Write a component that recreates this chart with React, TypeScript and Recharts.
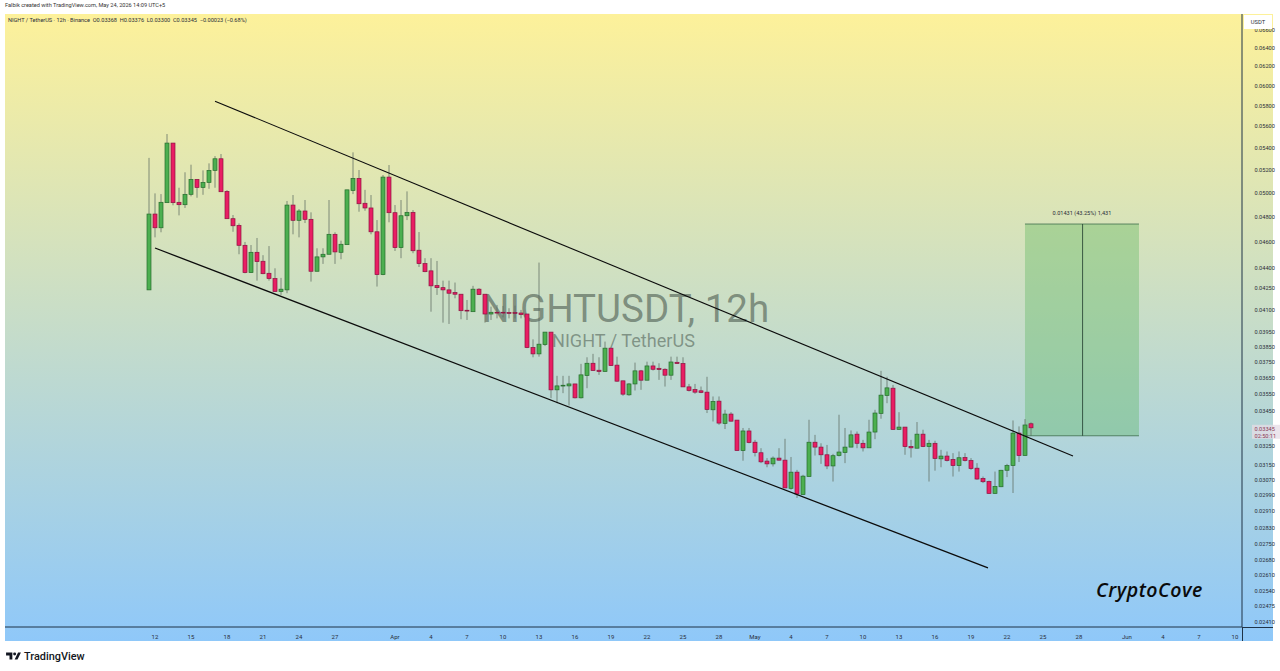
import { Bar, ComposedChart, ReferenceArea, ReferenceLine, XAxis, YAxis } from 'recharts';

const FONT = 'Roboto, "Liberation Sans", sans-serif';

// 12h candles, first one is Mar 11 12:00
const opens = [
  0.04229, 0.04811, 0.047, 0.04905, 0.05428, 0.04908, 0.04888, 0.04975, 0.05103, 0.05034,
  0.05077, 0.05182, 0.05285, 0.05, 0.04773, 0.04719, 0.04562, 0.04355, 0.04508, 0.0444,
  0.0435, 0.04311, 0.04217, 0.04229, 0.04885, 0.0476, 0.04836, 0.04768, 0.04365, 0.04473,
  0.04493, 0.04648, 0.04508, 0.04567, 0.05008, 0.05112, 0.049, 0.04861, 0.04668, 0.0434,
  0.05123, 0.04822, 0.04544, 0.04797, 0.04825, 0.04524, 0.04422, 0.04368, 0.0426, 0.04245,
  0.04229, 0.0421, 0.04198, 0.04085, 0.04075, 0.04234, 0.04198, 0.04059, 0.04071, 0.04071,
  0.04069, 0.04069, 0.04066, 0.04059, 0.03834, 0.03793, 0.03853, 0.03936, 0.03568, 0.03592,
  0.03592, 0.03604, 0.0352, 0.03656, 0.03733, 0.03689, 0.03681, 0.0383, 0.03721, 0.03623,
  0.03538, 0.03604, 0.03685, 0.03627, 0.03716, 0.03701, 0.03695, 0.03658, 0.03739, 0.03731,
  0.03586, 0.0357, 0.03562, 0.03554, 0.03449, 0.035, 0.0337, 0.03424, 0.03389, 0.03218,
  0.03327, 0.03264, 0.03206, 0.03161, 0.03146, 0.03177, 0.03166, 0.03018, 0.03102, 0.02986,
  0.03079, 0.03264, 0.03237, 0.03195, 0.03135, 0.03191, 0.03207, 0.03237, 0.03309, 0.03258,
  0.03233, 0.03321, 0.03428, 0.03534, 0.03578, 0.03336, 0.03349, 0.0324, 0.03231, 0.03309,
  0.0324, 0.03258, 0.03173, 0.03188, 0.0317, 0.03137, 0.0318, 0.03164, 0.03123, 0.03069,
  0.03053, 0.02992, 0.03026, 0.03112, 0.03137, 0.03315, 0.03191, 0.03368,
];
const highs = [
  0.05293, 0.04983, 0.04977, 0.05512, 0.05428, 0.05031, 0.05165, 0.05232, 0.05103, 0.05182,
  0.05244, 0.05309, 0.05328, 0.05011, 0.04803, 0.04735, 0.04588, 0.04564, 0.04619, 0.04486,
  0.04556, 0.04387, 0.04316, 0.04919, 0.04969, 0.04852, 0.04927, 0.04825, 0.04539, 0.04539,
  0.04927, 0.04664, 0.04598, 0.05013, 0.05343, 0.05185, 0.05013, 0.04969, 0.04762, 0.05141,
  0.05229, 0.04885, 0.04927, 0.05, 0.04844, 0.04666, 0.04463, 0.04463, 0.04442, 0.04296,
  0.04296, 0.04282, 0.04198, 0.04157, 0.04258, 0.04241, 0.04198, 0.0411, 0.04122, 0.04115,
  0.04099, 0.04117, 0.04087, 0.04059, 0.03888, 0.0443, 0.03936, 0.03936, 0.03654, 0.03654,
  0.03654, 0.03604, 0.03729, 0.03771, 0.03793, 0.03771, 0.03873, 0.0383, 0.03775, 0.03623,
  0.03609, 0.03737, 0.03691, 0.03743, 0.03743, 0.03733, 0.03701, 0.03775, 0.03775, 0.03771,
  0.03604, 0.03604, 0.03588, 0.03648, 0.03528, 0.03528, 0.03449, 0.03435, 0.03389, 0.03344,
  0.03344, 0.03277, 0.03231, 0.03177, 0.03186, 0.03231, 0.03283, 0.03183, 0.03114, 0.03088,
  0.03391, 0.03305, 0.03258, 0.03249, 0.032, 0.0342, 0.03344, 0.0333, 0.03324, 0.03277,
  0.03391, 0.03449, 0.03685, 0.03648, 0.03598, 0.03435, 0.03349, 0.03277, 0.03378, 0.03334,
  0.03277, 0.03272, 0.03222, 0.03213, 0.03204, 0.03213, 0.03204, 0.03177, 0.0315, 0.03079,
  0.03058, 0.03105, 0.03114, 0.03146, 0.03387, 0.03353, 0.03395, 0.03376,
];
const lows = [
  0.04229, 0.04624, 0.04664, 0.04905, 0.04883, 0.048, 0.04861, 0.04958, 0.04946, 0.04971,
  0.05022, 0.05031, 0.04997, 0.04773, 0.04668, 0.04493, 0.0435, 0.04355, 0.04296, 0.04343,
  0.04296, 0.04217, 0.04193, 0.04205, 0.04648, 0.04624, 0.04738, 0.04289, 0.04365, 0.0442,
  0.04493, 0.0442, 0.04455, 0.04567, 0.04977, 0.0483, 0.04838, 0.04648, 0.04253, 0.04336,
  0.04744, 0.04518, 0.04463, 0.04762, 0.04501, 0.04397, 0.04358, 0.04075, 0.04193, 0.04,
  0.03991, 0.04169, 0.04023, 0.04018, 0.04075, 0.04193, 0.04, 0.04018, 0.04029, 0.04036,
  0.04029, 0.04029, 0.04029, 0.0383, 0.03771, 0.03775, 0.03844, 0.03518, 0.03488, 0.03548,
  0.03474, 0.03516, 0.03516, 0.03578, 0.03687, 0.0366, 0.03681, 0.03716, 0.03617, 0.03532,
  0.03532, 0.03564, 0.03568, 0.03627, 0.03687, 0.03629, 0.03588, 0.03629, 0.03729, 0.03586,
  0.03558, 0.03544, 0.03548, 0.0343, 0.03381, 0.03362, 0.03338, 0.03381, 0.03218, 0.03163,
  0.03258, 0.03186, 0.0315, 0.03128, 0.03132, 0.03163, 0.0302, 0.03011, 0.02969, 0.02986,
  0.03079, 0.03191, 0.03146, 0.03118, 0.03053, 0.03186, 0.0315, 0.03237, 0.03231, 0.03213,
  0.03233, 0.03281, 0.03397, 0.03488, 0.03334, 0.03334, 0.03195, 0.0318, 0.03231, 0.03237,
  0.03053, 0.0311, 0.03128, 0.03159, 0.03079, 0.03105, 0.03159, 0.03114, 0.03062, 0.03045,
  0.0299, 0.0299, 0.03024, 0.03076, 0.02994, 0.03156, 0.03191, 0.033,
];
const closes = [
  0.04811, 0.047, 0.04908, 0.05428, 0.04905, 0.04888, 0.04975, 0.05103, 0.05034, 0.05077,
  0.05182, 0.05285, 0.04997, 0.04773, 0.04716, 0.04562, 0.04355, 0.04508, 0.04437, 0.04347,
  0.04311, 0.04217, 0.04234, 0.04885, 0.0476, 0.04836, 0.04768, 0.04365, 0.04473, 0.04493,
  0.04648, 0.04511, 0.0457, 0.05013, 0.05112, 0.04896, 0.04861, 0.04668, 0.0434, 0.05123,
  0.04822, 0.04544, 0.04797, 0.04825, 0.0452, 0.04422, 0.04362, 0.04258, 0.04245, 0.04229,
  0.04205, 0.04198, 0.04082, 0.04082, 0.04234, 0.04195, 0.04059, 0.04071, 0.04066, 0.04066,
  0.04064, 0.04064, 0.04055, 0.03834, 0.03793, 0.03856, 0.03936, 0.03568, 0.03592, 0.03596,
  0.03604, 0.0352, 0.0366, 0.03733, 0.03687, 0.03681, 0.0383, 0.03718, 0.03621, 0.03542,
  0.03604, 0.03685, 0.03627, 0.03716, 0.03695, 0.03693, 0.03658, 0.03741, 0.03731, 0.03586,
  0.03564, 0.03554, 0.03552, 0.03451, 0.03498, 0.03372, 0.03424, 0.03383, 0.03218, 0.03327,
  0.03262, 0.03207, 0.03157, 0.03146, 0.03177, 0.03166, 0.0302, 0.03102, 0.02989, 0.03081,
  0.03264, 0.03237, 0.03195, 0.03135, 0.0319, 0.0321, 0.03237, 0.03305, 0.03258, 0.03233,
  0.03321, 0.0343, 0.03536, 0.0358, 0.03336, 0.03349, 0.0324, 0.03233, 0.03309, 0.0324,
  0.03258, 0.03175, 0.03188, 0.03164, 0.03137, 0.03179, 0.03164, 0.03121, 0.03066, 0.03052,
  0.02992, 0.03028, 0.03112, 0.03137, 0.03315, 0.03191, 0.03361, 0.03345,
];

// x axis counts half days from Mar 12
const tickPositions = [0, 6, 12, 18, 24, 30, 40, 46, 52, 58, 64, 70, 76, 82, 88, 94, 100, 106, 112, 118, 124, 130, 136, 142, 148, 154, 162, 168, 174, 180];
const tickLabels = ['12', '15', '18', '21', '24', '27', 'Apr', '4', '7', '10', '13', '16', '19', '22', '25', '28', 'May', '4', '7', '10', '13', '16', '19', '22', '25', '28', 'Jun', '4', '7', '10'];
const priceTicks = [
  0.066, 0.064, 0.062, 0.06, 0.058, 0.056, 0.054, 0.052, 0.05, 0.048, 0.046, 0.044, 0.0425, 0.041, 0.0395, 0.0385,
  0.0375, 0.0365, 0.0355, 0.0345, 0.03345, 0.0325, 0.0315, 0.0307, 0.0299, 0.0291, 0.0283, 0.0275, 0.0268, 0.0261, 0.0254, 0.02475, 0.0241,
];

const upperChannel = [{ x: 10, y: 0.05829 }, { x: 153, y: 0.03189 }];
const lowerChannel = [{ x: 0, y: 0.04541 }, { x: 138.83, y: 0.02636 }];
const targetTimes = [145, 164];
const targetPrices = [0.033, 0.0473];
const targetCenter = 154.6;

const candles = opens.map((open, i) => ({
  t: i - 1,
  open,
  close: closes[i],
  high: highs[i],
  low: lows[i],
  range: [lows[i], highs[i]],
}));

function Candle(props: any) {
  const { x, y, width, height, payload } = props;
  const cx = Math.round(x + width / 2) + 1;
  const span = Math.log(payload.high / payload.low) || 1;
  const up = payload.close >= payload.open;
  const top = y + (height * Math.log(payload.high / Math.max(payload.open, payload.close))) / span;
  const bottom = y + (height * Math.log(payload.high / Math.min(payload.open, payload.close))) / span;
  return (
    <g>
      <line x1={cx} x2={cx} y1={y} y2={y + height} stroke="#5f6b60" strokeOpacity={0.75} />
      <rect
        x={cx - 2}
        y={top}
        width={4}
        height={Math.max(bottom - top, 0.8)}
        fill={up ? '#4caf50' : '#e91e63'}
        stroke={up ? '#256b2c' : '#8c1240'}
        strokeWidth={0.7}
      />
    </g>
  );
}

function PriceTick(props: any) {
  const { x, y, payload } = props;
  const isLast = payload.value === 0.03345;
  return (
    <g>
      {isLast && <rect x={x + 2} y={y - 3} width={28} height={14} fill="#e6dce6" fillOpacity={0.75} />}
      <text x={x + 4.5} y={y + 3.5} fontSize={5.6} fontFamily={FONT} fill={isLast ? '#8c3a55' : '#2a2e39'}>
        {payload.value.toFixed(5)}
      </text>
      {isLast && (
        <text x={x + 4.5} y={y + 10} fontSize={5.6} fontFamily={FONT} fill="#8c3a55">
          02:50:11
        </text>
      )}
    </g>
  );
}

export default function App() {
  return (
    <div style={{ position: 'absolute', left: 0, top: 0, width: 1280, height: 671, background: '#fff', overflow: 'hidden', fontFamily: FONT }}>
      <div style={{ position: 'absolute', left: 5, top: 14, width: 1268, height: 627, background: 'linear-gradient(180deg, #fdf19a 0%, #8fc8f9 100%)' }} />
      <div style={{ position: 'absolute', left: 5, top: 2, fontSize: 5.6, color: '#333' }}>Falbik created with TradingView.com, May 24, 2026 14:09 UTC+5</div>
      <div style={{ position: 'absolute', left: 8, top: 17, fontSize: 5.6, color: '#2a2e39', whiteSpace: 'pre' }}>
        NIGHT / TetherUS · 12h · Binance  O0.03368  H0.03376  L0.03300  C0.03345  −0.00023 (−0.68%)
      </div>
      <div style={{ position: 'absolute', left: 482, top: 284, fontSize: 38.5, lineHeight: '50px', color: 'rgba(60,75,65,0.55)', whiteSpace: 'pre' }}>NIGHTUSDT, 12h</div>
      <div style={{ position: 'absolute', left: 552, top: 329, fontSize: 18.1, lineHeight: '24px', color: 'rgba(60,75,65,0.5)', whiteSpace: 'pre' }}>NIGHT / TetherUS</div>

      <div style={{ position: 'absolute', left: 0, top: 0 }}>
        <ComposedChart
          width={1280}
          height={671}
          data={candles}
          margin={{ top: 14, right: 7, bottom: 30, left: 5 }}
          style={{ background: 'transparent' }}
        >
          <XAxis
            dataKey="t"
            type="number"
            domain={[-25, 181.17]}
            allowDataOverflow
            ticks={tickPositions}
            interval={0}
            height={14}
            tickLine={false}
            tickFormatter={(v: number) => tickLabels[tickPositions.indexOf(v)]}
            tick={{ fontSize: 6, fill: '#2a2e39', fontFamily: FONT }}
            axisLine={{ stroke: '#1f3347' }}
          />
          <YAxis
            orientation="right"
            scale="log"
            domain={[0.02384, 0.0676]}
            allowDataOverflow
            ticks={priceTicks}
            interval={0}
            width={31}
            tickLine={false}
            tick={<PriceTick />}
            axisLine={{ stroke: '#1f3347' }}
          />
          <Bar dataKey="range" barSize={5} shape={<Candle />} isAnimationActive={false} />
          <ReferenceArea
            x1={targetTimes[0]}
            x2={targetTimes[1]}
            y1={targetPrices[0]}
            y2={targetPrices[1]}
            fill="#4caf50"
            fillOpacity={0.33}
            stroke="none"
            ifOverflow="visible"
            label={{ value: '0.01431 (43.25%) 1,431', position: 'top', fontSize: 5.6, fill: '#2a2e39', offset: 9 }}
          />
          <ReferenceLine
            segment={[{ x: targetTimes[0], y: targetPrices[0] }, { x: targetTimes[1], y: targetPrices[0] }]}
            stroke="#3f6e4c"
            strokeWidth={0.8}
            ifOverflow="visible"
          />
          <ReferenceLine
            segment={[{ x: targetTimes[0], y: targetPrices[1] }, { x: targetTimes[1], y: targetPrices[1] }]}
            stroke="#3f6e4c"
            strokeWidth={0.8}
            ifOverflow="visible"
          />
          <ReferenceLine
            segment={[{ x: targetCenter, y: targetPrices[0] }, { x: targetCenter, y: targetPrices[1] }]}
            stroke="#1e3a2c"
            strokeWidth={0.8}
            ifOverflow="visible"
          />
          <ReferenceLine segment={upperChannel} stroke="#0b0b0b" strokeWidth={1.1} ifOverflow="visible" />
          <ReferenceLine segment={lowerChannel} stroke="#0b0b0b" strokeWidth={1.3} ifOverflow="visible" />
        </ComposedChart>
      </div>

      <div style={{ position: 'absolute', left: 1242, top: 627, width: 1, height: 14, background: '#1f3347' }} />
      <div style={{ position: 'absolute', left: 1242, top: 627, width: 31, height: 1, background: '#1f3347' }} />
      <div style={{ position: 'absolute', left: 1244, top: 15, width: 28, height: 14, background: '#fff', fontSize: 5.8, lineHeight: '14px', textAlign: 'center', color: '#2a2e39' }}>USDT</div>
      <div style={{ position: 'absolute', left: 1096, top: 577, fontSize: 19.5, lineHeight: '26px', fontWeight: 600, fontStyle: 'italic', letterSpacing: 0.5, color: '#0a0a0a', fontFamily: '"Open Sans", sans-serif' }}>CryptoCove</div>
      <svg style={{ position: 'absolute', left: 6, top: 652 }} width={15} height={8} viewBox="0 0 26 14">
        <path d="M0 1h11v12H6V6H0zM15 13l6-12h5l-6 12z" fill="#131722" />
        <circle cx={15} cy={3.5} r={2.6} fill="#131722" />
      </svg>
      <div style={{ position: 'absolute', left: 24, top: 649, fontSize: 10.9, lineHeight: '15px', fontWeight: 500, color: '#131722' }}>TradingView</div>
    </div>
  );
}
